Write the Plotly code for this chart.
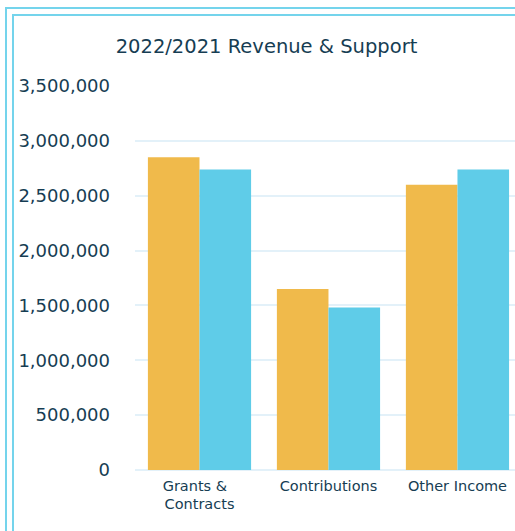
import plotly.graph_objects as go

categories = ["Grants &\u00a0\u00a0<br>Contracts", "Contributions", "Other Income"]
values_2022 = [2850000, 1650000, 2600000]
values_2021 = [2740000, 1480000, 2740000]
tick_vals = [0, 500000, 1000000, 1500000, 2000000, 2500000, 3000000, 3500000]
tick_text = ["0", "500,000", "1,000,000", "1,500,000", "2,000,000", "2,500,000", "3,000,000", "3,500,000"]

W, H = 515, 531
ML, MR, MT, MB = 135, 0, 86, 61
PW, PH = W - ML - MR, H - MT - MB

TEXT = "#163d53"
ORANGE = "#f0ba4b"
CYAN = "#5fcce8"
BORDER = "#74d4ec"
GRID = "#e3f1f9"

fig = go.Figure()
fig.add_trace(go.Bar(name="2022", x=categories, y=values_2022, marker=dict(color=ORANGE, line=dict(width=0))))
fig.add_trace(go.Bar(name="2021", x=categories, y=values_2021, marker=dict(color=CYAN, line=dict(width=0))))


def px_x(p):
    return (p - ML) / PW


def px_y(p):
    return (H - MB - p) / PH


shapes = []
for (x0, y0) in [(6, 8), (13, 15)]:
    shapes.append(dict(type="rect", xref="paper", yref="paper",
                       x0=px_x(x0), x1=px_x(W + 20), y0=px_y(H + 20), y1=px_y(y0),
                       line=dict(color=BORDER, width=2), fillcolor="rgba(0,0,0,0)", layer="above"))

fig.update_layout(
    width=W, height=H,
    margin=dict(l=ML, r=MR, t=MT, b=MB, pad=0),
    paper_bgcolor="white", plot_bgcolor="white",
    barmode="group", bargap=0.2, bargroupgap=0,
    showlegend=False,
    font=dict(family="DejaVu Sans", color=TEXT),
    title=dict(text="2022/2021 Revenue & Support", x=(266.5) / W, xanchor="center",
               y=1 - 46 / H, yanchor="middle",
               font=dict(family="DejaVu Sans", size=19.5, color=TEXT)),
    xaxis=dict(range=[-0.5, 2.446], showgrid=False, zeroline=False, showline=False,
               ticks="", tickfont=dict(size=14.5, color=TEXT), ticklabelstandoff=5),
    yaxis=dict(range=[0, 3500000], tickvals=tick_vals, ticktext=tick_text,
               showgrid=True, gridcolor=GRID, gridwidth=2,
               zeroline=True, zerolinecolor=GRID, zerolinewidth=2,
               showline=False, ticks="", tickfont=dict(size=18, color=TEXT),
               ticklabelstandoff=24),
    shapes=shapes,
    hovermode=False,
)

fig.write_html(
    "out.html",
    config={"displayModeBar": False, "staticPlot": True},
    post_script="document.body.style.margin='0';document.body.style.overflow='hidden';",
)
